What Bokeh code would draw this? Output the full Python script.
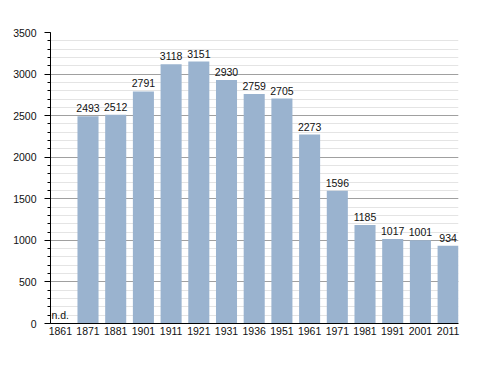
from bokeh.plotting import figure
from bokeh.models import ColumnDataSource, FixedTicker, Range1d, Label
from bokeh.embed import file_html
from bokeh.resources import INLINE
from bokeh.core.properties import value

years = ["1861", "1871", "1881", "1901", "1911", "1921", "1931", "1936", "1951",
         "1961", "1971", "1981", "1991", "2001", "2011"]
population = [None, 2493, 2512, 2791, 3118, 3151, 2930, 2759, 2705, 2273, 1596,
              1185, 1017, 1001, 934]
y_ticks = [0, 500, 1000, 1500, 2000, 2500, 3000, 3500]

idx = [i for i, v in enumerate(population) if v is not None]
vals = [population[i] for i in idx]
src = ColumnDataSource(dict(x=idx, top=vals, label=[str(v) for v in vals]))

FONT = "Liberation Sans"

p = figure(width=480, height=365, output_backend="svg", toolbar_location=None,
           x_range=Range1d(-0.354, 14.375), y_range=Range1d(0, 3500),
           min_border_left=50, min_border_right=22, min_border_top=32, min_border_bottom=42)
p.outline_line_color = None
p.background_fill_color = "white"

p.vbar(x="x", top="top", width=0.76, bottom=0, source=src,
       fill_color="#9ab3cf", line_color=None)
p.text(x="x", y="top", text="label", source=src, text_align="center",
       text_baseline="bottom", y_offset=-4, text_font=value(FONT),
       text_font_size="10.5px", text_color="#111111")

p.add_layout(Label(x=-0.32, y=0, text="n.d.", text_font=FONT, text_font_size="10.5px",
                   y_offset=3, text_baseline="bottom", text_color="#111111"))

# y axis
p.yaxis.ticker = FixedTicker(ticks=y_ticks, minor_ticks=list(range(0, 3501, 100)))
p.yaxis.axis_line_color = "black"
p.yaxis.major_tick_line_color = "black"
p.yaxis.minor_tick_line_color = "black"
p.yaxis.major_tick_out = 6
p.yaxis.major_tick_in = 0
p.yaxis.minor_tick_out = 3
p.yaxis.minor_tick_in = 0
p.yaxis.major_label_text_font = FONT
p.yaxis.major_label_text_font_size = "10.5px"
p.yaxis.major_label_text_color = "#111111"
p.yaxis.major_label_standoff = 8

# x axis
p.xaxis.ticker = FixedTicker(ticks=list(range(len(years))))
p.xaxis.major_label_overrides = {i: y for i, y in enumerate(years)}
p.xaxis.axis_line_color = "black"
p.xaxis.major_tick_line_color = None
p.xaxis.minor_tick_line_color = None
p.xaxis.major_tick_out = 0
p.xaxis.major_tick_in = 0
p.xaxis.minor_tick_out = 0
p.xaxis.minor_tick_in = 0
p.xaxis.major_label_text_font = FONT
p.xaxis.major_label_text_font_size = "10.5px"
p.xaxis.major_label_text_color = "#111111"
p.xaxis.major_label_standoff = 3

p.xgrid.grid_line_color = None
p.ygrid.grid_line_color = "#a0a0a0"
p.ygrid.grid_line_width = 1
p.ygrid.minor_grid_line_color = "#e4e4e4"

open("out.html", "w").write(file_html(p, INLINE))
